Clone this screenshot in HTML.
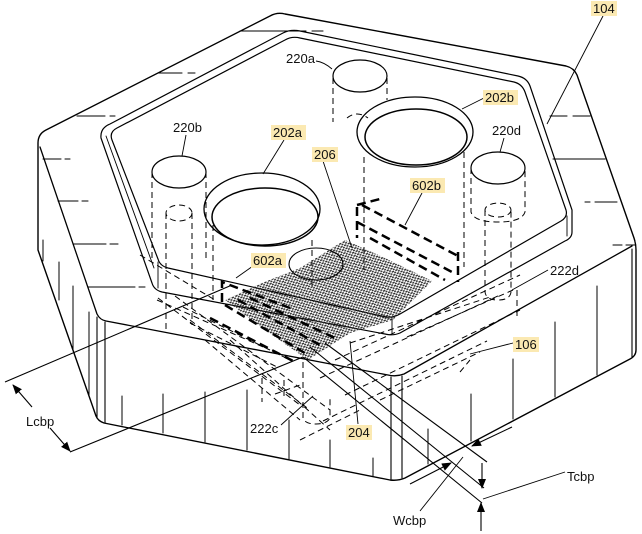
<!DOCTYPE html>
<html><head><meta charset="utf-8"><style>
html,body{margin:0;padding:0;background:#fff;}
svg{display:block;}
text{font-family:"Liberation Sans",Arial,sans-serif;font-size:13px;fill:#111;}
</style></head><body>
<svg width="642" height="534" viewBox="0 0 642 534" xmlns="http://www.w3.org/2000/svg">
<defs>
<pattern id="mesh" width="4" height="3.4" patternUnits="userSpaceOnUse" patternTransform="rotate(-25)">
<path d="M0,0.9 h2.4 M2,2.6 h2.2" stroke="#111" stroke-width="1.15"/>
<path d="M1,0 v1.8 M3,1.6 v1.6" stroke="#333" stroke-width="0.7"/>
</pattern>
<marker id="ah" markerWidth="10" markerHeight="8" refX="9" refY="4" orient="auto" markerUnits="userSpaceOnUse">
<path d="M0,0 L10,4 L0,8 Z" fill="#000"/>
</marker>
</defs>
<rect width="642" height="534" fill="#fff"/>

<g fill="none" stroke="#000" stroke-linejoin="round" stroke-linecap="round">
<path stroke-width="1.4" d="M38,143 Q38,134 46,130 L270,16 Q277,12 285,14 L566,66 Q574,68 577,75 L634,238 Q636,244 636,250 L636,350 Q636,356 630,359 L405,478 Q398,481 390,480 L104,423 Q98,421 96,416 L38,250 Z"/>
<path stroke-width="1.3" d="M40,147 L97,314 Q100,320 106,321 L388,375 Q396,377 404,374 L632,246"/>
<path stroke-width="1.1" d="M97,317 V418 M105,322 V423 M391,377 V479 M402,376 V478 M632,249 V357"/>
<path stroke-width="1" d="M43,240 V261 M59,262 V300 M73,286 V350 M89,312 V396"/>
<path stroke-width="1" d="M122,396 V425 M163,394 V433 M205,392 V442 M247,390 V450 M289,420 V459 M330,440 V467 M373,458 V476"/>
<path stroke-width="1" d="M428,429 V464 M471,394 V441 M513,359 V419 M555,322 V397 M597,286 V375"/>
<path stroke-width="1.1" d="M240,31 H306 M312,31 H323 M158,73 H182 M188,73 H195 M77,116 H105 M110,116 H115 M43,159 H61 M65,159 H70 M58,201 H78 M82,201 H88 M73,244 H106 M110,244 H118 M88,287 H135 M139,287 H145 M550,116 H567 M573,116 H590 M553,159 H605 M585,202 H590 M595,202 H617 M613,245 H622 M626,245 H635"/>

<path stroke-width="1.2" d="M101,138 Q100,128 110,124 L283,33 Q291,29 300,31 L518,76 Q527,78 530,86 L572,210 L572,232 Q572,238 565,241 L400,333 Q393,336 385,334 L162,292 Q154,290 152,283 L101,138"/>
<path stroke-width="1.2" d="M112,140 Q109,132 117,128 L285,40 Q292,36 300,38 L514,82 Q522,84 525,92 L566,210 Q568,217 561,221 L400,314 Q393,318 386,317 L168,268 Q160,266 158,259 Z"/>
<path stroke-width="0.9" d="M106,136 L154,268 M158,262 V288 M392,318 V333 M567,216 V236"/>

<ellipse cx="360" cy="76" rx="27" ry="16" stroke-width="1.2"/>
<ellipse cx="179" cy="172" rx="27" ry="16" stroke-width="1.2"/>
<ellipse cx="498" cy="168" rx="27" ry="16" stroke-width="1.2"/>
<ellipse cx="262" cy="209" rx="58" ry="36" stroke-width="1.3"/>
<ellipse cx="265" cy="217" rx="53" ry="29" stroke-width="1.5"/>
<ellipse cx="415" cy="132" rx="58" ry="35" stroke-width="1.3"/>
<ellipse cx="416" cy="137" rx="51" ry="28" stroke-width="1.5"/>
</g>

<g fill="none" stroke="#000" stroke-width="1" stroke-dasharray="6 4">
<path d="M152,172 V258 M206,172 V258"/>
<ellipse cx="179" cy="213" rx="13" ry="8"/>
<path d="M166,213 V330 M192,213 V325"/>
<path d="M333,78 V122 M387,78 V100"/>
<path d="M347,118 Q357,110 368,118"/>
<path d="M471,168 V212 Q474,222 498,222 Q522,222 525,212 V168"/>
<ellipse cx="498" cy="210" rx="13" ry="7"/>
<path d="M485,210 V292 Q486,300 498,300 Q510,300 511,292 V210"/>
<path d="M517,290 V320"/>
<path d="M364,157 V270 M464,152 V267"/>
<path d="M213,225 V300 M312,240 V290"/>
<path d="M303,362 V418 Q305,424 316,424 Q327,424 330,418 V396"/>
<path d="M262,378 V402 M284,380 V398"/>
<path d="M158,298 L300,405 M175,296 L330,410 M190,320 L310,410 M205,340 L300,420 M157,300 L270,350 M183,307 L290,360 M190,323 L277,367 M230,340 L330,430 M140,255 L215,300"/>
<path d="M335,360 L520,275 M320,378 L500,295 M345,395 L520,310 M323,421 L487,341 M380,400 L480,352 M407,337 L513,290 M300,440 L360,410 M350,343 L490,297"/>
<path d="M460,372 L470,360 M275,394 L300,385"/>
</g>

<path d="M225,300 L262,283 L300,268 L345,240 L385,258 L432,281 L393,320 L350,333 L308,360 L265,330 Z" fill="url(#mesh)" stroke="none"/>
<ellipse cx="316" cy="264" rx="27" ry="16" fill="none" stroke="#000" stroke-width="1.1"/>

<g fill="none" stroke="#000" stroke-width="2.5" stroke-dasharray="9 5">
<path d="M357,207 V238 M362,205 L458,256 M357,222 L452,272 M370,238 L445,280 M458,252 V282 M357,205 L380,199"/>
<path d="M222,302 V282 L290,308 M225,305 L308,355 M238,300 L320,345 M210,318 L295,362 M250,298 L335,338"/>
</g>

<g fill="none" stroke="#000" stroke-width="1.1">
<path d="M325,343 L487,462 M310,347 L484,488 M303,357 L482,503"/>
<path d="M5,382 L232,285 M70,452 L303,357"/>
<path d="M32,407 L13,385" marker-end="url(#ah)"/>
<path d="M50,428 L70,451" marker-end="url(#ah)"/>
<path d="M512,427 L472,446" marker-end="url(#ah)"/>
<path d="M410,484 L451,463" marker-end="url(#ah)"/>
<path d="M482,463 L482,488" marker-end="url(#ah)"/>
<path d="M481,531 L481,503" marker-end="url(#ah)"/>
</g>

<g fill="none" stroke="#000" stroke-width="0.9">
<path d="M603,16 L547,124"/>
<path d="M316,61 Q324,62 332,69"/>
<path d="M186,135 L182,156"/>
<path d="M284,140 L263,174"/>
<path d="M323,161 L352,248"/>
<path d="M484,98 L462,109"/>
<path d="M504,138 L500,152"/>
<path d="M422,193 L405,225"/>
<path d="M253,266 L236,278"/>
<path d="M548,270 L512,290"/>
<path d="M513,343 L470,354"/>
<path d="M281,425 L313,396"/>
<path d="M358,424 L350,341"/>
<path d="M565,472 L483,499"/>
<path d="M420,511 L463,457"/>
</g>

<g fill="#fbe9b2">
<rect x="591" y="1" width="26" height="15"/>
<rect x="271" y="125" width="35" height="15"/>
<rect x="312" y="147" width="26" height="15"/>
<rect x="483" y="90" width="35" height="15"/>
<rect x="410" y="178" width="35" height="15"/>
<rect x="251" y="253" width="35" height="15"/>
<rect x="513" y="337" width="26" height="15"/>
<rect x="346" y="425" width="26" height="15"/>
</g>

<g>
<text x="593" y="13">104</text>
<text x="286" y="63">220a</text>
<text x="173" y="132">220b</text>
<text x="273" y="137">202a</text>
<text x="314" y="159">206</text>
<text x="485" y="102">202b</text>
<text x="492" y="135">220d</text>
<text x="412" y="190">602b</text>
<text x="253" y="265">602a</text>
<text x="550" y="275">222d</text>
<text x="515" y="349">106</text>
<text x="250" y="433">222c</text>
<text x="348" y="437">204</text>
<text x="26" y="426">Lcbp</text>
<text x="393" y="525">Wcbp</text>
<text x="567" y="481">Tcbp</text>
</g>
</svg>
</body></html>
